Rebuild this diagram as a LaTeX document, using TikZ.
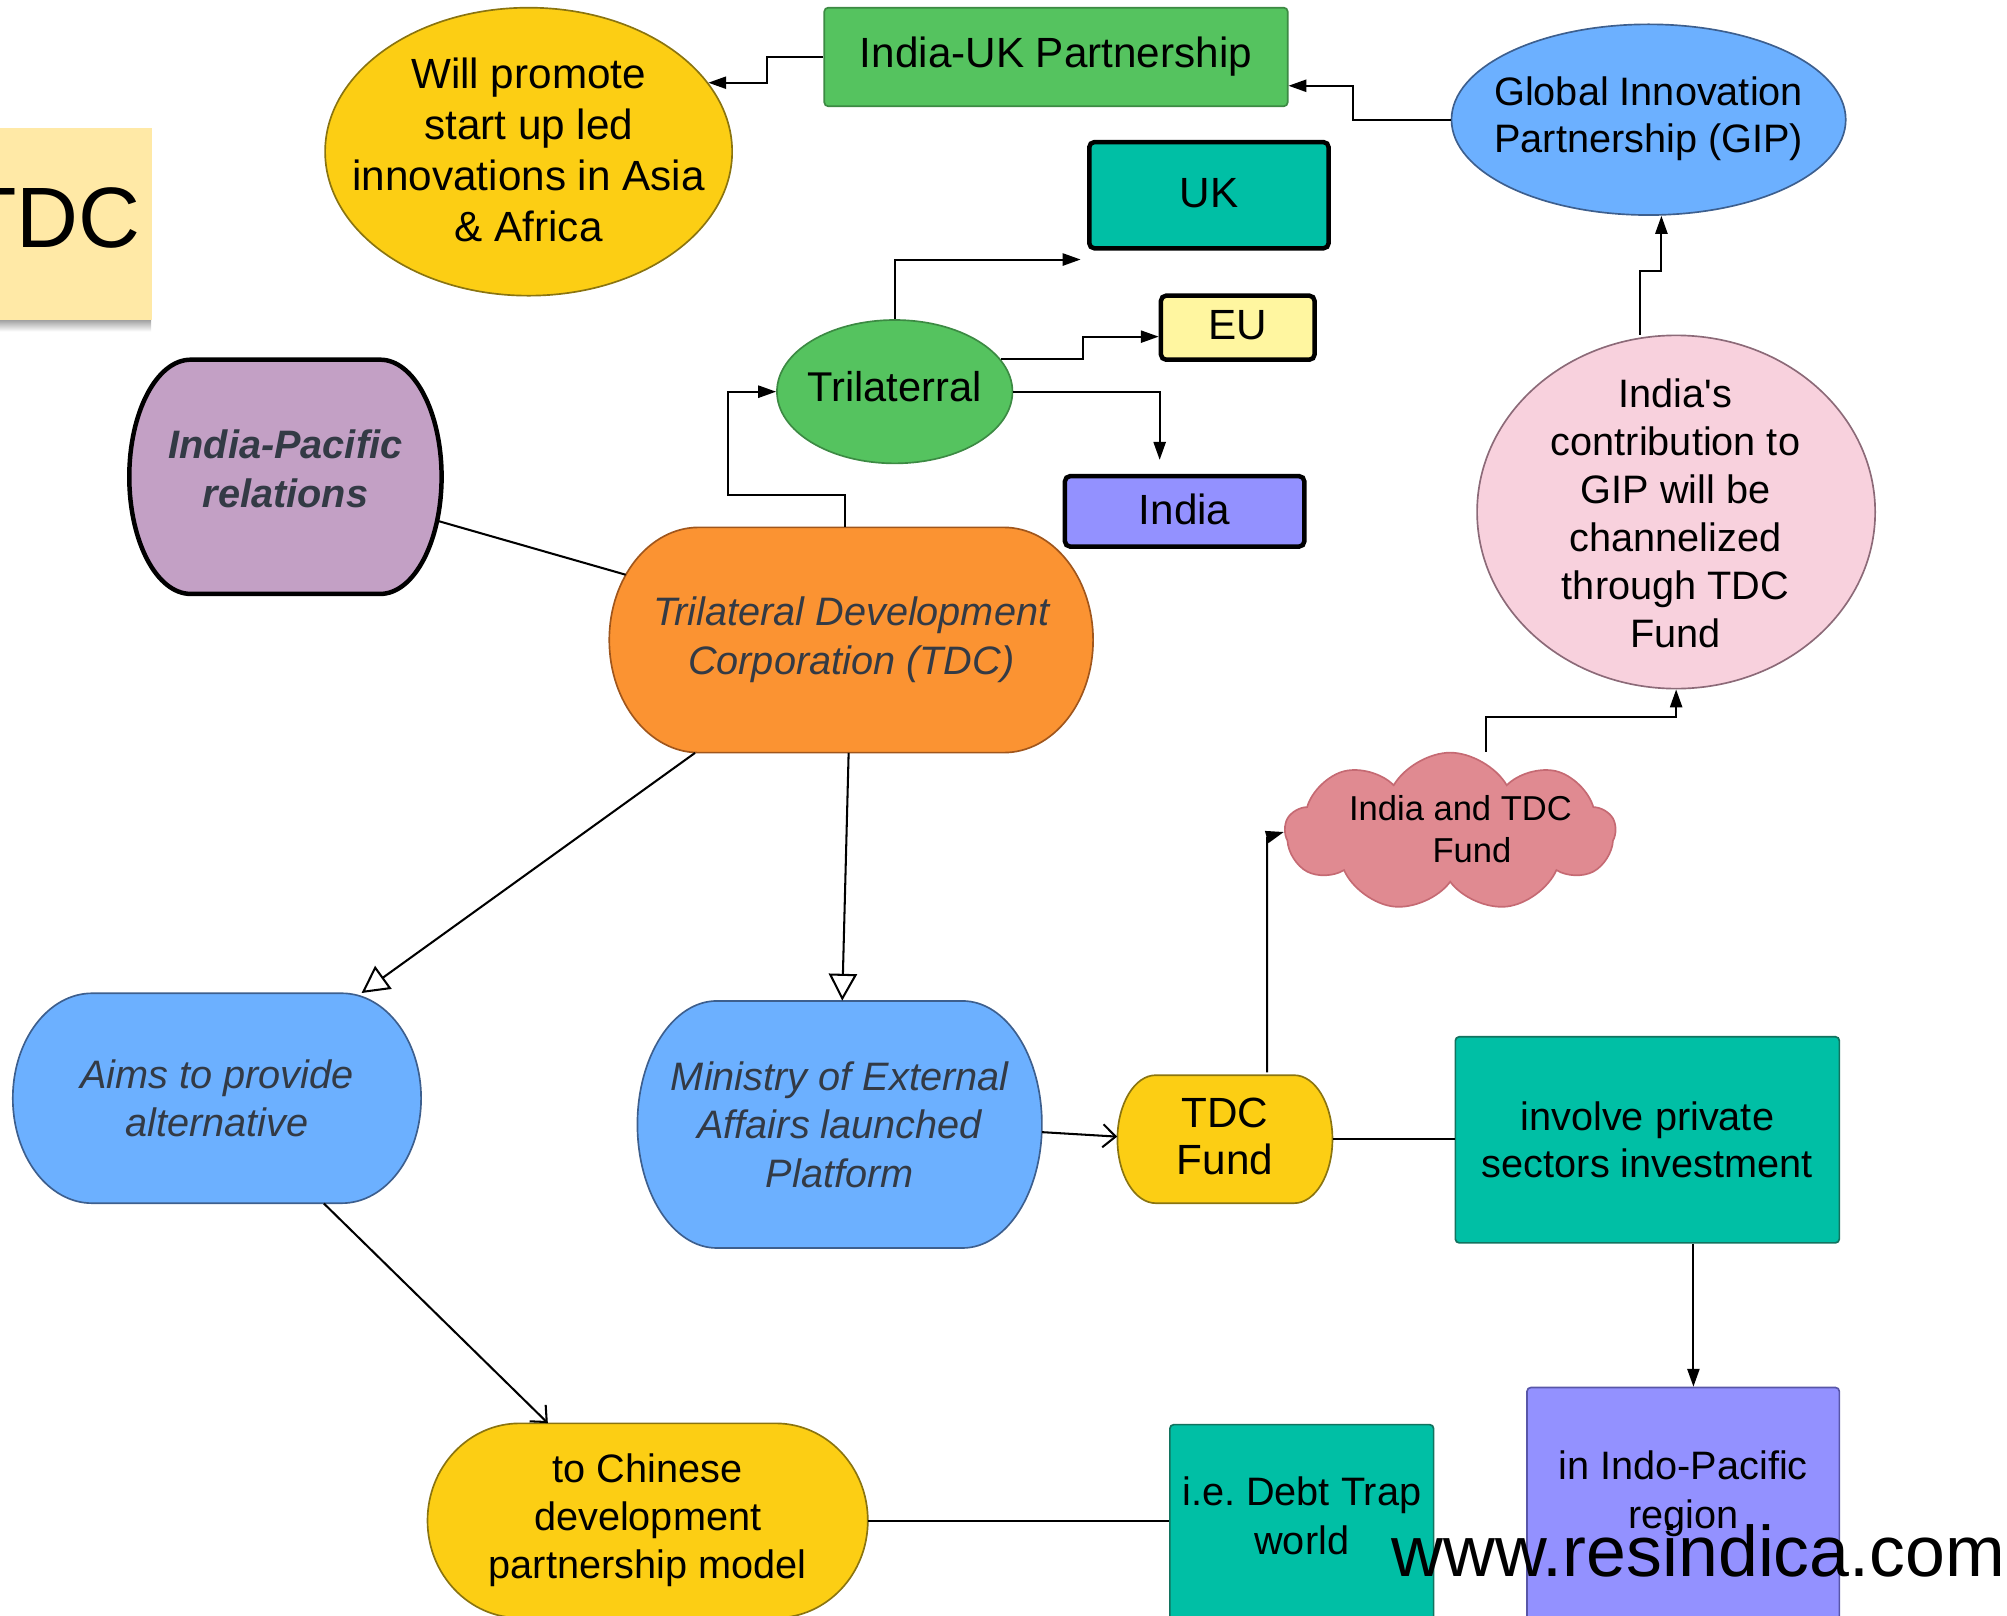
\documentclass[tikz,border=0pt]{standalone}
\usepackage{fontspec}
\setmainfont{Liberation Sans}[Ligatures=TeXOff]
\usetikzlibrary{shapes.geometric,shapes.symbols,arrows.meta,calc}
\definecolor{cYellow}{HTML}{FCCE14}
\definecolor{cYellowD}{HTML}{8A7410}
\definecolor{cOrange}{HTML}{FB9332}
\definecolor{cOrangeD}{HTML}{A0561C}
\definecolor{cGreen}{HTML}{55C35F}
\definecolor{cGreenD}{HTML}{3C8A43}
\definecolor{cBlue}{HTML}{6CB0FF}
\definecolor{cBlueD}{HTML}{3D5F8E}
\definecolor{cTeal}{HTML}{00BFA5}
\definecolor{cTealD}{HTML}{12735F}
\definecolor{cLav}{HTML}{9391FF}
\definecolor{cLavD}{HTML}{5856A8}
\definecolor{cEU}{HTML}{FFF6A0}
\definecolor{cPurple}{HTML}{C3A0C5}
\definecolor{cPink}{HTML}{F8D1DD}
\definecolor{cPinkD}{HTML}{8C6A78}
\definecolor{cCloud}{HTML}{E08A91}
\definecolor{cCloudD}{HTML}{C56A73}
\definecolor{cSticky}{HTML}{FFE9A6}
\definecolor{cText}{HTML}{333A45}
\newcommand\fs[2]{\fontsize{#1}{#2}\selectfont}
\newcommand\barrel[6]{\path[#1] ({#2+#6},#3) -- ({#4-#6},#3) arc[start angle=90,end angle=-90,x radius=#6pt,y radius={(#5-#3)/2*1pt}] -- ({#2+#6},#5) arc[start angle=270,end angle=90,x radius=#6pt,y radius={(#5-#3)/2*1pt}] -- cycle;}
\tikzset{
  thin border/.style={line width=1.3},
  thick border/.style={line width=3.5, draw=black},
  txt/.style={align=center, inner sep=0, font=\fs{31}{38}},
  btxt/.style={align=center, inner sep=0, font=\fs{33}{40}},
  itxt/.style={align=center, inner sep=0, font=\fs{31}{38}\itshape, text=cText},
  conn/.style={line width=1.6, draw=black},
  farr/.style={conn, -{Triangle[length=14pt,width=9.5pt]}},
  harr/.style={conn, -{Triangle[open,fill=white,length=21pt,width=22pt]}},
  varr/.style={conn, -{Straight Barb[length=10pt,width=18pt]}},
}
\begin{document}
\begin{tikzpicture}[x=1pt,y=-1pt]
\frenchspacing
\useasboundingbox (0,0) rectangle (1568,1262);
% sticky note
\shade[top color=black!45, bottom color=white] (0,248) rectangle (118,259);
\fill[cSticky] (0,100) rectangle (119,250);
\node[inner sep=0, font=\fs{67}{80}] (sticky) at (41,170) {TDC};
% top ellipses and boxes
\node[ellipse, draw=cYellowD, fill=cYellow, thin border, minimum width=318, minimum height=225, inner sep=0] (will) at (413,118.5) {};
\node[btxt] (willt) at (413,117) {Will promote\\start up led\\innovations in Asia\\\& Africa};
\node[draw=cGreenD, fill=cGreen, thin border, rounded corners=3, minimum width=362, minimum height=77, btxt] (iuk) at (825,44.5) {India-UK Partnership};
\node[ellipse, draw=cBlueD, fill=cBlue, thin border, minimum width=308, minimum height=149, inner sep=0] (gip) at (1288,93.5) {};
\node[txt, font=\fs{31}{37}] (gipt) at (1288,93) {Global Innovation\\Partnership (GIP)};
\node[thick border, fill=cTeal, rounded corners=4, minimum width=187, minimum height=83, btxt] (uk) at (944.5,152.5) {\raisebox{4pt}{UK}};
\node[thick border, fill=cEU, rounded corners=4, minimum width=120, minimum height=50, btxt] (eu) at (967,256) {\raisebox{4.5pt}{EU}};
\node[thick border, fill=cLav, rounded corners=4, minimum width=187, minimum height=55, btxt] (india) at (925.5,399.5) {\raisebox{4pt}{India}};
\node[ellipse, draw=cGreenD, fill=cGreen, thin border, minimum width=184, minimum height=112, inner sep=0] (trilat) at (699,306) {};
\node[btxt, font=\fs{32.5}{40}] (trilatt) at (699,302) {Trilaterral};
% India-Pacific
\barrel{fill=cPurple, thick border}{101}{281}{345}{464}{48}
\node[minimum width=244, minimum height=183, txt, font=\fs{31}{38}\bfseries\itshape, text=cText] (ip) at (223,366.5) {India-Pacific\\relations};
% TDC
\barrel{fill=cOrange, draw=cOrangeD, thin border}{476}{412}{854}{588}{70}
\node[minimum width=378, minimum height=176, itxt] (tdc) at (665,500) {Trilateral Development\\Corporation (TDC)};
% Aims
\barrel{fill=cBlue, draw=cBlueD, thin border}{10}{776}{329}{940}{62}
\node[minimum width=319, minimum height=164, itxt] (aims) at (169.5,858) {Aims to provide\\alternative};
% Ministry
\barrel{fill=cBlue, draw=cBlueD, thin border}{498}{782}{814}{975}{62}
\node[minimum width=316, minimum height=193, itxt] (min) at (656,878.5) {Ministry of External\\Affairs launched\\Platform};
% TDC Fund
\barrel{fill=cYellow, draw=cYellowD, thin border}{873}{840}{1041}{940}{30}
\node[minimum width=168, minimum height=100, btxt, font=\fs{33}{37}] (tdcf) at (957,888) {TDC\\Fund};
% involve
\node[draw=cTealD, fill=cTeal, thin border, rounded corners=3, minimum width=300, minimum height=161, txt, font=\fs{31}{37}] (involve) at (1287,890.5) {involve private\\sectors investment};
% India's contribution
\node[ellipse, draw=cPinkD, fill=cPink, thin border, minimum width=311, minimum height=276, inner sep=0] (contrib) at (1309.5,400) {};
\node[txt, font=\fs{31}{37.6}] (contribt) at (1309,401) {India's\\contribution to\\GIP will be\\channelized\\through TDC\\Fund};
% cloud
\node[cloud, cloud puffs=9, cloud puff arc=120, aspect=2.1, draw=cCloudD, fill=cCloud, thin border, minimum width=258, minimum height=124, inner sep=0] (cloud) at (1133,650) {};
\node[txt, font=\fs{27}{33}] (cloudt) at (1141,648) {India and TDC\\\hspace*{18pt}Fund};
% bottom boxes
\node[draw=cLavD, fill=cLav, thin border, rounded corners=3, minimum width=244, minimum height=206] (indobox) at (1315,1187) {};
\node[txt] (indot) at (1315,1167) {in Indo-Pacific\\region};
\node[draw=cTealD, fill=cTeal, thin border, rounded corners=3, minimum width=206, minimum height=177] (debtbox) at (1017,1201.5) {};
\node[txt] (debtt) at (1017,1184) {i.e. Debt Trap\\world};
\barrel{fill=cYellow, draw=cYellowD, thin border}{334}{1112}{678}{1264}{72}
\node[minimum width=344, minimum height=152, txt, font=\fs{31}{37.5}] (chin) at (506,1188) {to Chinese\\development\\partnership model};
% connectors
\draw[farr] (iuk.west) -- ++(-44,0) |- (will.21);
\draw[farr] (gip.west) -- ++(-76,0) |- ([yshift=-22.5pt]iuk.east);
\draw[farr] ([xshift=-28pt]contrib.north) -- ++(0,-50) -| ([xshift=10pt]gip.south);
\draw[farr] ([xshift=28pt]cloud.north) -- ++(0,-27) -| (contrib.south);
\draw[farr] ([xshift=33pt]tdcf.north) -- ++(0,-184) -- (cloud.west);
\draw[farr] (trilat.north) |- ([xshift=-5pt,yshift=-7pt]uk.south west);
\draw[farr] (trilat.17) -- ++(64,0) |- ([yshift=-7pt]eu.west);
\draw[farr] (trilat.east) -| ([xshift=-19.5pt,yshift=11pt]india.north);
\draw[farr] ([xshift=-5pt]tdc.north) -- ++(0,-25) -- ++(-91,0) |- (trilat.west);
\draw[conn] ([xshift=-3pt,yshift=-40.5pt]ip.east) -- ([xshift=13pt,yshift=51pt]tdc.west);
\draw[harr] ([xshift=-122pt]tdc.south) -- ([xshift=113pt]aims.north);
\draw[harr] ([xshift=-2pt]tdc.south) -- ([xshift=2pt]min.north);
\draw[varr] ([yshift=-6pt]min.east) -- (tdcf.west);
\draw[conn] ([yshift=-2pt]tdcf.east) -- ([yshift=-2pt]tdcf.east -| involve.west);
\draw[farr] ([xshift=36pt]involve.south) -- ([xshift=8pt]indobox.north);
\draw[varr] ([xshift=83.5pt]aims.south) -- ([xshift=-78pt]chin.north);
\draw[conn] (chin.east) -- ([yshift=13.5pt]debtbox.west);
% watermark text
\node[anchor=base west, inner sep=0, font=\fs{56}{60}] (web) at (1087,1232) {www.resindica.com};
\end{tikzpicture}
\end{document}
